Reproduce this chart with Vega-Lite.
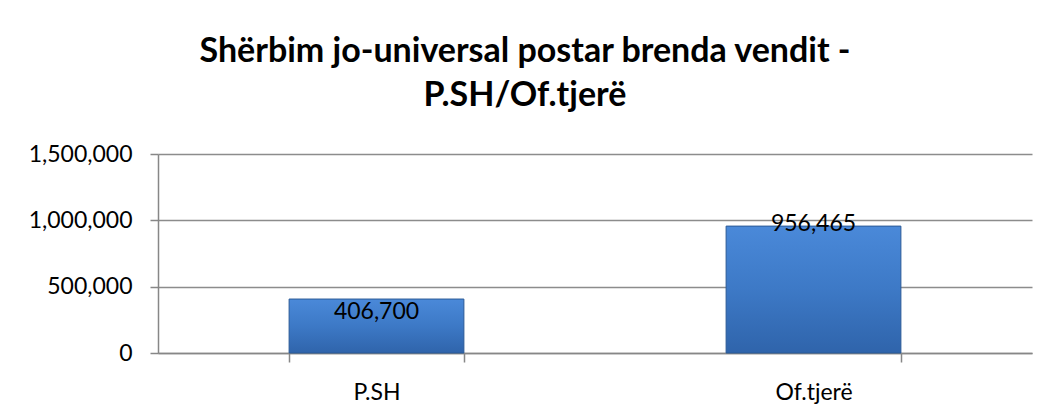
{
  "$schema": "https://vega.github.io/schema/vega-lite/v6.json",
  "autosize": {"type": "none"},
  "width": 874,
  "height": 199,
  "padding": {"left": 158, "top": 154, "right": 18, "bottom": 60},
  "background": "white",
  "title": {
    "text": ["Shërbim jo-universal postar brenda vendit -", "P.SH/Of.tjerë"],
    "font": "Lato",
    "fontSize": 34,
    "fontWeight": "bold",
    "color": "black",
    "anchor": "middle",
    "frame": "group",
    "dx": -70,
    "offset": 30,
    "lineHeight": 44
  },
  "data": {
    "values": [
      {"category": "P.SH", "value": 406700},
      {"category": "Of.tjerë", "value": 956465}
    ]
  },
  "config": {
    "view": {"stroke": null},
    "font": "Lato"
  },
  "encoding": {
    "x": {
      "field": "category",
      "type": "nominal",
      "sort": null,
      "scale": {"paddingInner": 0.6, "paddingOuter": 0.3},
      "axis": {
        "title": null,
        "labelAngle": 0,
        "labelFont": "Lato",
        "labelFontSize": 23,
        "labelColor": "black",
        "labelPadding": 19,
        "tickBand": "extent",
        "tickSize": 9,
        "tickColor": "#878787",
        "tickWidth": 1.5,
        "domainColor": "#878787",
        "domainWidth": 1.5
      }
    },
    "y": {
      "field": "value",
      "type": "quantitative",
      "scale": {"domain": [0, 1500000]},
      "axis": {
        "title": null,
        "values": [0, 500000, 1000000, 1500000],
        "format": ",.0f",
        "labelFont": "Lato",
        "labelFontSize": 23,
        "labelColor": "black",
        "labelPadding": 18,
        "tickSize": 8,
        "tickColor": "#878787",
        "tickWidth": 1.5,
        "domainColor": "#878787",
        "domainWidth": 1.5,
        "grid": true,
        "gridColor": "#8c8c8c",
        "gridWidth": 1.5
      }
    }
  },
  "layer": [
    {
      "mark": {
        "type": "bar",
        "color": {
          "gradient": "linear",
          "x1": 0, "y1": 0, "x2": 0, "y2": 1,
          "stops": [
            {"offset": 0, "color": "#4a89d9"},
            {"offset": 0.5, "color": "#3d79c6"},
            {"offset": 1, "color": "#2f64ab"}
          ]
        },
        "stroke": "#2b5a96",
        "strokeWidth": 1
      }
    },
    {
      "transform": [{"filter": "datum.value < 700000"}],
      "mark": {"type": "text", "baseline": "top", "dy": 2, "fontSize": 23, "font": "Lato", "color": "black"},
      "encoding": {"text": {"field": "value", "type": "quantitative", "format": ",.0f"}}
    },
    {
      "transform": [{"filter": "datum.value >= 700000"}],
      "mark": {"type": "text", "baseline": "middle", "dy": -2, "fontSize": 23, "font": "Lato", "color": "black"},
      "encoding": {"text": {"field": "value", "type": "quantitative", "format": ",.0f"}}
    }
  ]
}
